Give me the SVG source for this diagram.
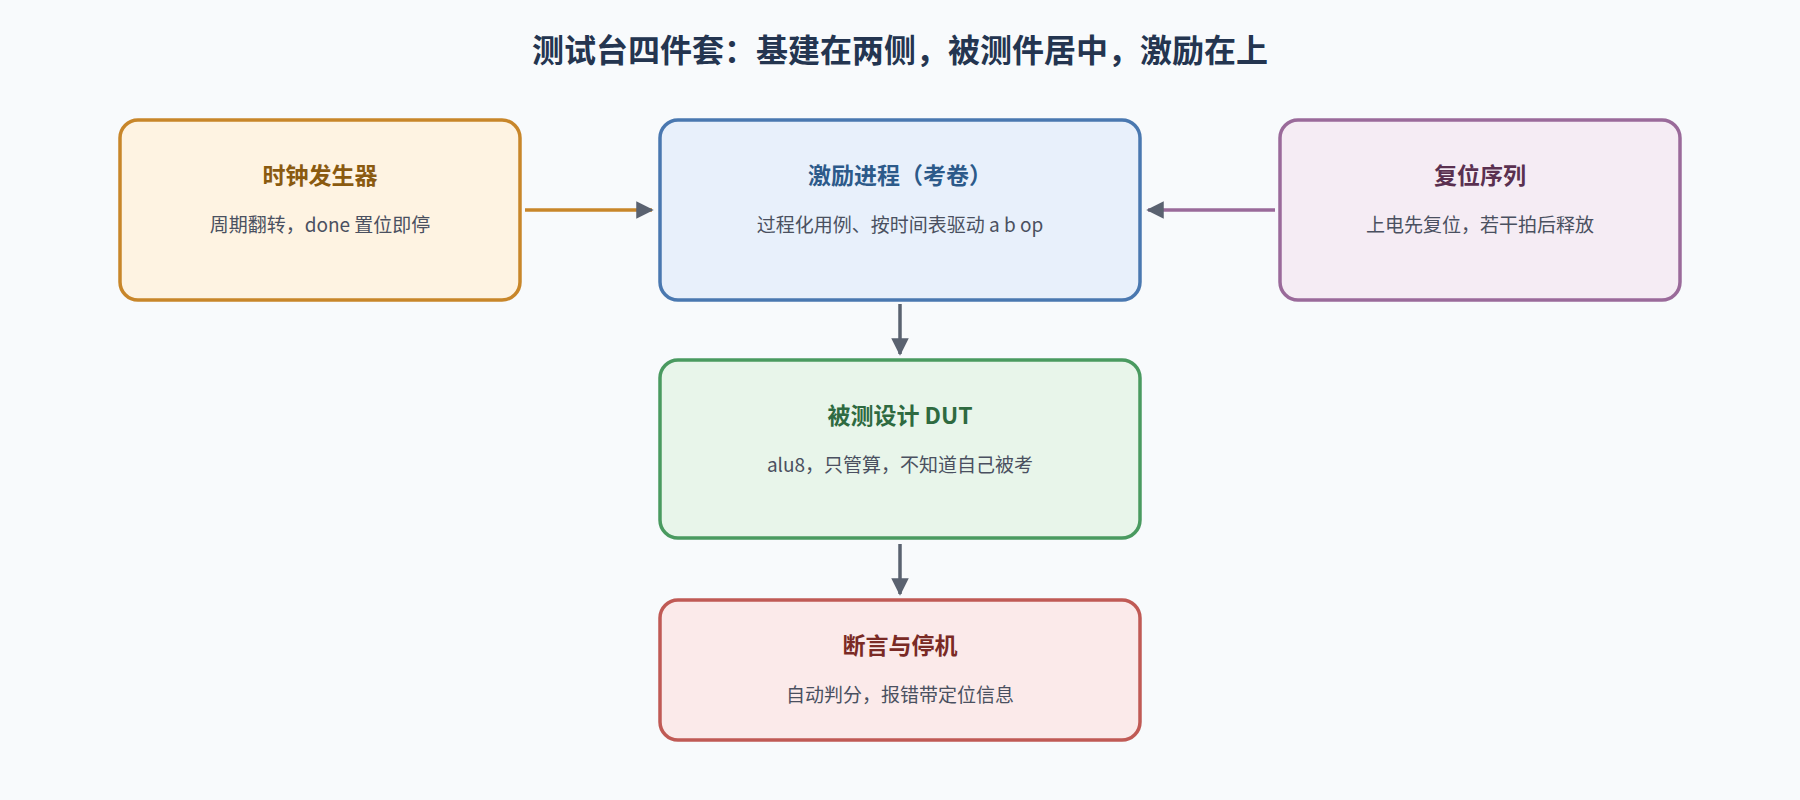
<svg xmlns="http://www.w3.org/2000/svg" width="1800" height="800" viewBox="0 0 1800 800">
<style>
text{font-family:"Noto Sans CJK SC","Noto Sans",sans-serif;text-anchor:middle}
.t{font-size:23px;font-weight:bold}
.s{font-size:19px;fill:#4a5060}
.b{stroke-width:3.5}
</style>
<defs>
<marker id="ag" viewBox="0 0 10 10" refX="9" refY="5" markerWidth="5" markerHeight="5" orient="auto"><path d="M0,0L10,5L0,10z" fill="#5a6270"/></marker>
</defs>
<rect width="1800" height="800" fill="#f8fafc"/>
<text x="900" y="62" style="font-size:32px;font-weight:bold;fill:#243550">测试台四件套：基建在两侧，被测件居中，激励在上</text>
<g id="edges" fill="none" stroke-width="3.5">
<line x1="525" y1="210" x2="652" y2="210" stroke="#c8862a" marker-end="url(#ag)"/>
<line x1="1275" y1="210" x2="1148" y2="210" stroke="#9a6a9a" marker-end="url(#ag)"/>
<line x1="900" y1="304" x2="900" y2="354" stroke="#5a6270" marker-end="url(#ag)"/>
<line x1="900" y1="544" x2="900" y2="594" stroke="#5a6270" marker-end="url(#ag)"/>
</g>
<g id="clock"><rect class="b" x="120" y="120" width="400" height="180" rx="18" fill="#fef3e2" stroke="#c8862a"/>
<text class="t" x="320" y="184" fill="#8a5a10">时钟发生器</text><text class="s" x="320" y="232" fill="#6a5a40">周期翻转，done 置位即停</text></g>
<g id="stim"><rect class="b" x="660" y="120" width="480" height="180" rx="18" fill="#e8f0fb" stroke="#4a78b0"/>
<text class="t" x="900" y="184" fill="#2c5a8a">激励进程（考卷）</text><text class="s" x="900" y="232">过程化用例、按时间表驱动 a b op</text></g>
<g id="reset"><rect class="b" x="1280" y="120" width="400" height="180" rx="18" fill="#f5ecf4" stroke="#9a6a9a"/>
<text class="t" x="1480" y="184" fill="#5a3050">复位序列</text><text class="s" x="1480" y="232">上电先复位，若干拍后释放</text></g>
<g id="dut"><rect class="b" x="660" y="360" width="480" height="178" rx="18" fill="#e8f5ea" stroke="#4a9a60"/>
<text class="t" x="900" y="424" fill="#2e6a40">被测设计 DUT</text><text class="s" x="900" y="472">alu8，只管算，不知道自己被考</text></g>
<g id="assert"><rect class="b" x="660" y="600" width="480" height="140" rx="18" fill="#fbeaea" stroke="#c05a55"/>
<text class="t" x="900" y="654" fill="#7a2a25">断言与停机</text><text class="s" x="900" y="702">自动判分，报错带定位信息</text></g>
</svg>
